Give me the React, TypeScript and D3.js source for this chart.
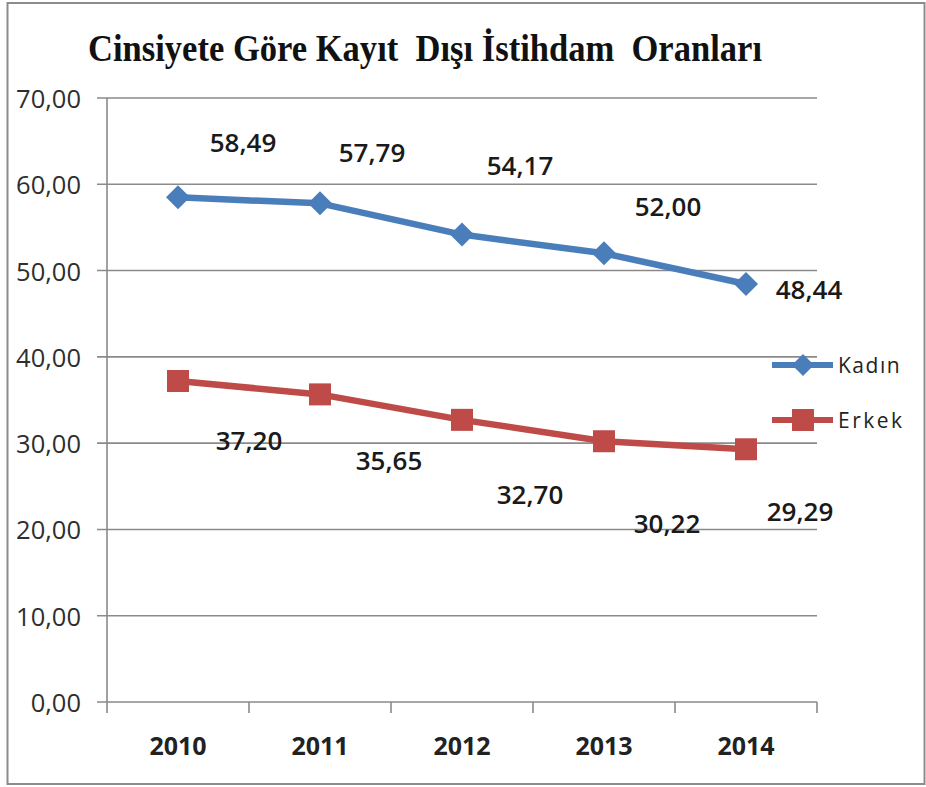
import React from "react";
import * as d3 from "d3";

const years = ["2010", "2011", "2012", "2013", "2014"];
const kadin = [58.49, 57.79, 54.17, 52.0, 48.44];
const erkek = [37.2, 35.65, 32.7, 30.22, 29.29];
const yTicks = [0, 10, 20, 30, 40, 50, 60, 70];
const seriesNames = ["Kadın", "Erkek"];
const titleText = "Cinsiyete Göre Kayıt  Dışı İstihdam  Oranları";

// label placement offsets (layout, px) relative to each point
const kadinLabelOffsets: [number, number][] = [[65, -55], [52, -51], [58, -70], [64, -47], [63, 5]];
const erkekLabelOffsets: [number, number][] = [[71, 59], [69, 66], [68, 74], [63, 82], [54, 62]];

const W = 926, H = 787;
const blue = "#4a7ebb";
const red = "#be4b48";
const fmt = (v: number) => v.toFixed(2).replace(".", ",");

export default function App() {
  const x = d3.scaleBand<string>().domain(years).range([107, 817]);
  const y = d3.scaleLinear().domain([0, 70]).range([702, 98]);
  const cx = (d: string) => (x(d) as number) + x.bandwidth() / 2;
  const line = d3.line<number>().x((_, i) => cx(years[i])).y((v) => y(v));
  const sans = "'Open Sans', 'DejaVu Sans', sans-serif";

  const diamond = (px: number, py: number, r: number) =>
    `M${px},${py - r}L${px + r},${py}L${px},${py + r}L${px - r},${py}Z`;

  return (
    <svg width={W} height={H} style={{ position: "absolute", left: 0, top: 0, background: "#fff" }}>
      <rect x={7.5} y={3} width={917} height={781} fill="#fff" stroke="#8c8c8c" strokeWidth={2} />
      <text
        x={88}
        y={61}
        fontFamily="'Liberation Serif', 'Times New Roman', serif"
        fontWeight="bold"
        fontSize={37}
        textLength={674}
        lengthAdjust="spacingAndGlyphs"
        style={{ whiteSpace: "pre" }}
        fill="#111"
      >
        {titleText}
      </text>
      {yTicks.map((t) => (
        <g key={t}>
          <line x1={97} x2={817} y1={y(t)} y2={y(t)} stroke="#8a8a8a" strokeWidth={1.6} />
          <text x={81} y={y(t)} textAnchor="end" dominantBaseline="central" fontFamily={sans} fontSize={25.5} fill="#2e2e2e">
            {fmt(t)}
          </text>
        </g>
      ))}
      <line x1={107} x2={107} y1={98} y2={713} stroke="#8a8a8a" strokeWidth={1.6} />
      {years.map((yr) => (
        <g key={yr}>
          <line x1={(x(yr) as number) + x.bandwidth()} x2={(x(yr) as number) + x.bandwidth()} y1={702} y2={713} stroke="#8a8a8a" strokeWidth={1.6} />
          <text x={cx(yr)} y={745} textAnchor="middle" dominantBaseline="central" fontFamily={sans} fontWeight="bold" fontSize={25} fill="#222">
            {yr}
          </text>
        </g>
      ))}

      <path d={line(kadin) || ""} fill="none" stroke={blue} strokeWidth={6.5} strokeLinejoin="round" />
      {kadin.map((v, i) => (
        <path key={i} d={diamond(cx(years[i]), y(v), 12)} fill={blue} />
      ))}
      <path d={line(erkek) || ""} fill="none" stroke={red} strokeWidth={6.5} strokeLinejoin="round" />
      {erkek.map((v, i) => (
        <rect key={i} x={cx(years[i]) - 11} y={y(v) - 11} width={22} height={22} fill={red} />
      ))}

      {kadin.map((v, i) => (
        <text key={"kl" + i} x={cx(years[i]) + kadinLabelOffsets[i][0]} y={y(v) + kadinLabelOffsets[i][1]} textAnchor="middle" dominantBaseline="central" fontFamily={sans} fontWeight={600} fontSize={26} fill="#1a1a1a">
          {fmt(v)}
        </text>
      ))}
      {erkek.map((v, i) => (
        <text key={"el" + i} x={cx(years[i]) + erkekLabelOffsets[i][0]} y={y(v) + erkekLabelOffsets[i][1]} textAnchor="middle" dominantBaseline="central" fontFamily={sans} fontWeight={600} fontSize={26} fill="#1a1a1a">
          {fmt(v)}
        </text>
      ))}

      {/* legend */}
      <g>
        <line x1={772} x2={833} y1={365} y2={365} stroke={blue} strokeWidth={6} />
        <path d={diamond(803, 365, 11)} fill={blue} />
        <text x={838} y={365} dominantBaseline="central" fontFamily={sans} fontSize={21} letterSpacing={1.5} fill="#222">
          {seriesNames[0]}
        </text>
        <line x1={772} x2={833} y1={420} y2={420} stroke={red} strokeWidth={6} />
        <rect x={792} y={409} width={22} height={22} fill={red} />
        <text x={838} y={420} dominantBaseline="central" fontFamily={sans} fontSize={21} letterSpacing={2.5} fill="#222">
          {seriesNames[1]}
        </text>
      </g>
    </svg>
  );
}
